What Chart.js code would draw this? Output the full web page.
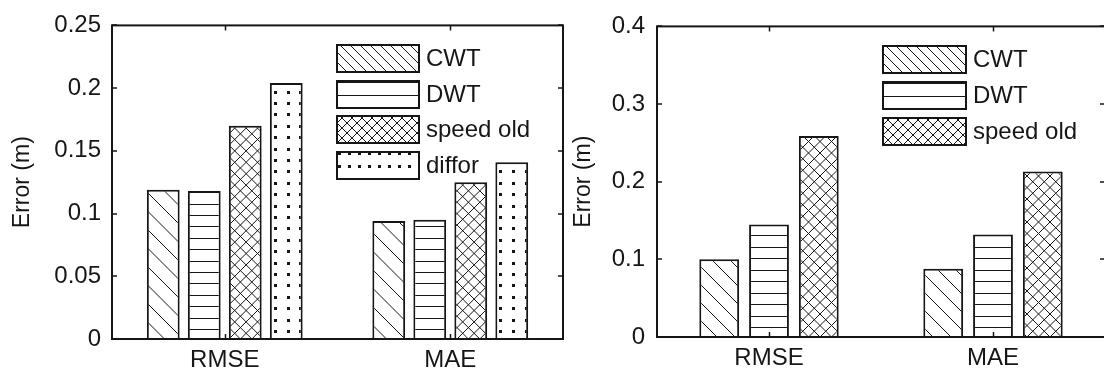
<!DOCTYPE html>
<html>
<head>
<meta charset="utf-8">
<script src="https://cdn.jsdelivr.net/npm/chart.js@4.4.1/dist/chart.umd.min.js"></script>
<style>
  html, body { margin: 0; padding: 0; background: #fff; overflow: hidden; width: 1104px; height: 374px; }
  canvas { position: absolute; top: 0; }
  #left { left: 0; }
  #right { left: 570px; }
</style>
</head>
<body>
<canvas id="left" width="570" height="374"></canvas>
<canvas id="right" width="550" height="374"></canvas>
<script>
// ---- data ----
const categories = ['RMSE', 'MAE'];
const seriesNames = ['CWT', 'DWT', 'speed old', 'diffor'];

// left panel
const cwtLeft = [0.119, 0.094];
const dwtLeft = [0.118, 0.095];
const speedOldLeft = [0.170, 0.125];
const difforLeft = [0.204, 0.141];
const yTicksLeft = [0, 0.05, 0.1, 0.15, 0.2, 0.25];
const yLabelsLeft = ['0', '0.05', '0.1', '0.15', '0.2', '0.25'];

// right panel
const cwtRight = [0.100, 0.088];
const dwtRight = [0.145, 0.132];
const speedOldRight = [0.259, 0.213];
const yTicksRight = [0, 0.1, 0.2, 0.3, 0.4];
const yLabelsRight = ['0', '0.1', '0.2', '0.3', '0.4'];

const yTitle = 'Error (m)';

// ---- styling ----
const INK = '#161616';
const FAMILY = '"Liberation Sans", Arial, Helvetica, sans-serif';

// step through c = base + k*s covering [lo, hi]
function sweep(lo, hi, base, s, fn) {
  let c = base + Math.floor((lo - base) / s) * s;
  for (; c <= hi + s; c += s) fn(c);
}

// hatch fills: '\' diagonals, '/' diagonals, horizontal lines, square dots
function drawHatch(g, kind, x, y, w, h, p) {
  g.save();
  g.beginPath(); g.rect(x, y, w, h); g.clip();
  g.strokeStyle = INK; g.fillStyle = INK; g.lineWidth = p.lw || 1;
  const ax = p.ax, ay = p.ay;
  g.beginPath();
  if (kind === 'diag' || kind === 'cross') {
    sweep(y - x - w, y + h - x, ay - ax, p.step, c => {
      g.moveTo(x - 2, x - 2 + c); g.lineTo(x + w + 2, x + w + 2 + c);
    });
  }
  if (kind === 'cross') {
    sweep(x + y, x + w + y + h, ay + ax, p.step, c => {
      g.moveTo(x - 2, c - (x - 2)); g.lineTo(x + w + 2, c - (x + w + 2));
    });
  }
  if (kind === 'horiz') {
    sweep(y, y + h, ay, p.step, c => {
      const yy = Math.round(c) + 0.5;
      g.moveTo(x, yy); g.lineTo(x + w, yy);
    });
  }
  g.stroke();
  if (kind === 'dots') {
    sweep(y, y + h, ay, p.sy, py => sweep(x, x + w, ax, p.sx, px => {
      g.fillRect(Math.round(px) - 1, Math.round(py) - 1, 3, 3);
    }));
  }
  g.restore();
}

// full-canvas hatch used as a bar fill pattern
function hatchPattern(canvasId, kind, p) {
  const target = document.getElementById(canvasId);
  const off = document.createElement('canvas');
  off.width = target.width; off.height = target.height;
  const g = off.getContext('2d');
  g.fillStyle = '#fff'; g.fillRect(0, 0, off.width, off.height);
  drawHatch(g, kind, 0, 0, off.width, off.height, p);
  return target.getContext('2d').createPattern(off, 'no-repeat');
}

// box around the plot with inward tick marks on all four sides
const framePlugin = {
  id: 'frame',
  afterDatasetsDraw(chart) {
    const { ctx, chartArea: a, scales } = chart;
    ctx.save();
    ctx.strokeStyle = INK;
    ctx.lineWidth = 2;
    ctx.strokeRect(a.left, a.top, a.right - a.left, a.bottom - a.top);
    ctx.lineWidth = 1.5;
    ctx.beginPath();
    scales.y.ticks.forEach(t => {
      const py = Math.round(scales.y.getPixelForValue(t.value));
      ctx.moveTo(a.left, py); ctx.lineTo(a.left + 5, py);
      ctx.moveTo(a.right, py); ctx.lineTo(a.right - 5, py);
    });
    scales.x.ticks.forEach((t, i) => {
      const px = Math.round(scales.x.getPixelForTick(i)) + 0.5;
      ctx.moveTo(px, a.bottom); ctx.lineTo(px, a.bottom - 5);
      ctx.moveTo(px, a.top); ctx.lineTo(px, a.top + 5);
    });
    ctx.stroke();
    ctx.restore();
  }
};

// legend of hatched swatches placed inside the plot
const hatchLegendPlugin = {
  id: 'hatchLegend',
  afterDraw(chart, args, opts) {
    const { ctx, chartArea: a } = chart;
    ctx.save();
    chart.data.datasets.forEach((ds, i) => {
      const x = a.left + opts.dx, y = Math.round(a.top + opts.dy + i * opts.pitch);
      const w = opts.w, h = opts.h;
      ctx.fillStyle = '#fff';
      ctx.fillRect(x, y, w, h);
      const lp = ds.legendHatch;
      drawHatch(ctx, lp.kind, x, y, w, h, Object.assign({}, lp, { ax: x + (lp.dx || 0), ay: y + h - (lp.dy || 0) }));
      ctx.strokeStyle = INK;
      ctx.lineWidth = 2;
      ctx.strokeRect(x, y, w, h);
      ctx.fillStyle = INK;
      ctx.font = '24px ' + FAMILY;
      ctx.textBaseline = 'middle';
      ctx.textAlign = 'left';
      ctx.fillText(ds.label, x + w + 7, y + h / 2 + 1);
    });
    ctx.restore();
  }
};

function makeChart(id, sets, yTicks, yLabels, yMax, cfg) {
  return new Chart(document.getElementById(id), {
    type: 'bar',
    data: {
      labels: categories,
      datasets: sets.map(s => ({
        label: s.label,
        data: s.data,
        backgroundColor: s.fill,
        borderColor: INK,
        borderWidth: 2,
        borderSkipped: 'start',
        categoryPercentage: cfg.categoryPercentage,
        barPercentage: 0.8,
        legendHatch: s.legendHatch
      }))
    },
    options: {
      responsive: false,
      animation: false,
      events: [],
      layout: { padding: cfg.padding },
      plugins: {
        legend: { display: false },
        tooltip: { enabled: false },
        hatchLegend: cfg.legend
      },
      scales: {
        x: {
          grid: { display: false, drawTicks: false },
          border: { display: false },
          ticks: { color: INK, font: { family: FAMILY, size: 24 }, padding: cfg.xLabelPad },
          afterFit: s => { s.height = cfg.xHeight; }
        },
        y: {
          min: 0,
          max: yMax,
          grid: { display: false, drawTicks: false },
          border: { display: false },
          afterBuildTicks: s => { s.ticks = yTicks.map(v => ({ value: v })); },
          ticks: {
            autoSkip: false,
            color: INK,
            font: { family: FAMILY, size: 24 },
            padding: cfg.yLabelPad,
            callback: (v, i) => yLabels[i]
          },
          title: {
            display: true,
            text: yTitle,
            color: INK,
            font: { family: FAMILY, size: 23, lineHeight: 1.2 },
            padding: { top: cfg.titlePad, bottom: 0 }
          },
          afterFit: s => { s.width = cfg.yWidth; }
        }
      }
    },
    plugins: [framePlugin, hatchLegendPlugin]
  });
}

// ---- left panel: four methods ----
makeChart('left', [
  { label: seriesNames[0], data: cwtLeft,
    fill: hatchPattern('left', 'diag', { step: 18.5, ax: 146, ay: 339 }),
    legendHatch: { kind: 'diag', step: 10 } },
  { label: seriesNames[1], data: dwtLeft,
    fill: hatchPattern('left', 'horiz', { step: 11.4, ax: 0, ay: 329 }),
    legendHatch: { kind: 'horiz', step: 13 } },
  { label: seriesNames[2], data: speedOldLeft,
    fill: hatchPattern('left', 'cross', { step: 11.4, ax: 229, ay: 339 }),
    legendHatch: { kind: 'cross', step: 10 } },
  { label: seriesNames[3], data: difforLeft,
    fill: hatchPattern('left', 'dots', { sx: 225.5 / 18, sy: 11.4, ax: 275, ay: 331 }),
    legendHatch: { kind: 'dots', sx: 10, sy: 13, dx: 2, dy: 0 } }
], yTicksLeft, yLabelsLeft, 0.25, {
  padding: { left: 0, right: 7, top: 22, bottom: 0 },
  yWidth: 112, xHeight: 35, yLabelPad: 11, xLabelPad: 7, titlePad: 9,
  categoryPercentage: 4 / 5.5,
  legend: { dx: 225, dy: 20, w: 82, h: 27, pitch: 35.5 }
});

// ---- right panel: three methods ----
makeChart('right', [
  { label: seriesNames[0], data: cwtRight,
    fill: hatchPattern('right', 'diag', { step: 18, ax: 129, ay: 337 }),
    legendHatch: { kind: 'diag', step: 10 } },
  { label: seriesNames[1], data: dwtRight,
    fill: hatchPattern('right', 'horiz', { step: 11.5, ax: 0, ay: 327 }),
    legendHatch: { kind: 'horiz', step: 13 } },
  { label: seriesNames[2], data: speedOldRight,
    fill: hatchPattern('right', 'cross', { step: 11.5, ax: 227, ay: 337 }),
    legendHatch: { kind: 'cross', step: 10 } }
], yTicksRight, yLabelsRight, 0.4, {
  padding: { left: 0, right: 15, top: 18, bottom: 0 },
  yWidth: 87, xHeight: 37, yLabelPad: 12, xLabelPad: 7, titlePad: 0,
  categoryPercentage: 3 / 4.5,
  legend: { dx: 226, dy: 20, w: 83, h: 27, pitch: 36 }
});
</script>
</body>
</html>
